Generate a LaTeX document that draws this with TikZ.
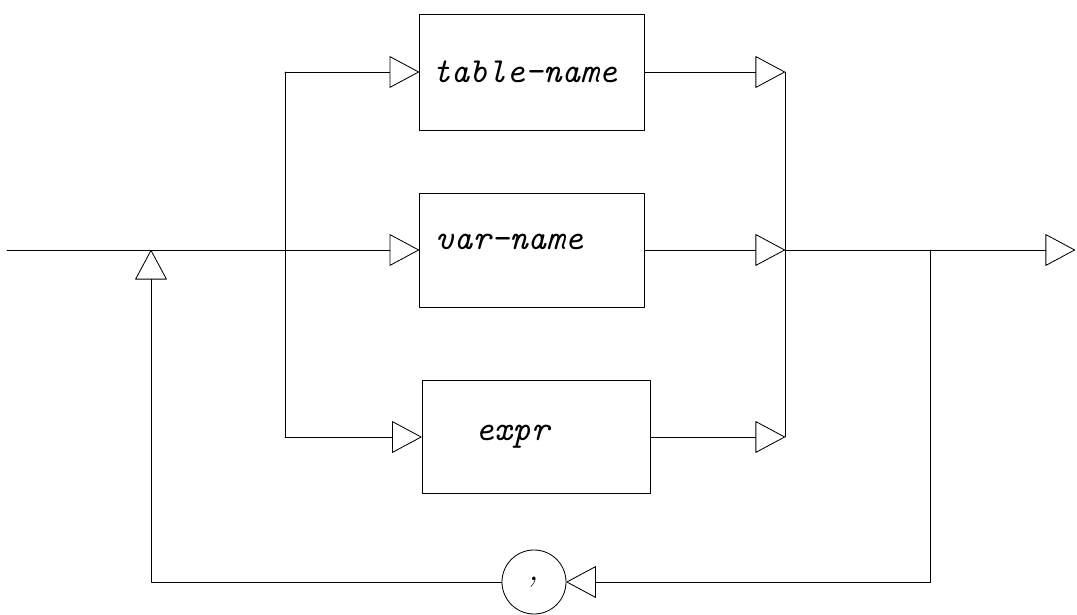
\documentclass[tikz,border=0pt]{standalone}
\usepackage{tikz}
\usetikzlibrary{arrows.meta}

\begin{document}
\begin{tikzpicture}[
						x=0.025cm, y=-0.025cm,
						line width=0.6pt,
						line cap=round,
						line join=round,
						flow/.style={-{Triangle[open, round, length=0.75cm, width=0.8cm]}},
						box/.style={draw, rectangle, inner sep=0pt},
						lbl/.style={font=\fontsize{25}{30}\selectfont\ttfamily\itshape, inner sep=0pt}
						]
						
						% Page frame
						\useasboundingbox (0,0) rectangle (1077,615);
						
						% Boxes
						\node[box, minimum width=5.625cm, minimum height=2.9cm] (tbl) at (532,72) {};
						\node[box, minimum width=5.625cm, minimum height=2.85cm] (var) at (532,250) {};
						\node[box, minimum width=5.7cm, minimum height=2.825cm] (expr) at (536,437) {};
						\node[draw, circle, minimum size=1.6cm, inner sep=0pt, font=\fontsize{25}{30}\selectfont\itshape] (comma) at (534,582) {,};
						
						% Box texts
						\node[lbl, anchor=base west] (tbltext) at (432,83) {table-name};
						\node[lbl, anchor=base west] (vartext) at (435,250) {var-name};
						\node[lbl, anchor=base west] (exprtext) at (475,441) {expr};
						
						% Points on the lines
						\coordinate (start) at (7,250);
						\coordinate (lsplit) at (285,250);
						\coordinate (rjoin) at (785,250);
						\coordinate (loopsplit) at (930,250);
						\coordinate (back) at (151,250);
						\coordinate (out) at (1075,250);
						
						% Into the boxes
						\draw[flow] (start) -- (var.west);
						\draw (lsplit |- tbl.west) -- (lsplit |- expr.west);
						\foreach \b in {tbl,expr}
						\draw[flow] (lsplit |- \b.west) -- (\b.west);
						
						% Out of the boxes
						\foreach \b in {tbl,var,expr}
						\draw[flow] (\b.east) -- (\b.east -| rjoin);
						\draw (rjoin |- tbl.east) -- (rjoin |- expr.east);
						\draw[flow] (rjoin) -- (out);
						
						% Loop back through the comma
						\draw[flow] (loopsplit) |- (comma.east);
						\draw[flow] (comma.west) -| (back);
						
					\end{tikzpicture}
\end{document}
